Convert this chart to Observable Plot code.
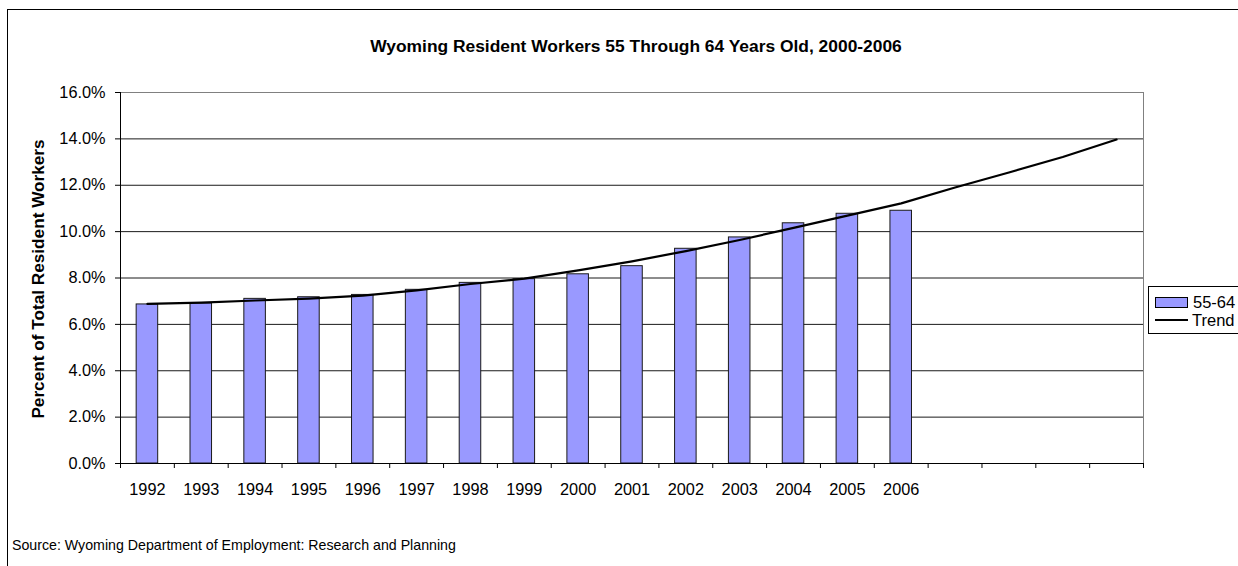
<!DOCTYPE html>
<html>
<head>
<meta charset="utf-8">
<script src="https://cdn.jsdelivr.net/npm/d3@7"></script>
<script src="https://cdn.jsdelivr.net/npm/@observablehq/plot@0.6"></script>
<style>
  html, body { margin: 0; padding: 0; background: #fff; overflow: hidden; }
  body { font-family: "Liberation Sans", Arial, sans-serif; color: #000; }
  #wrap { position: relative; width: 1238px; height: 566px; overflow: hidden; }
  #border { position: absolute; left: 7px; top: 9px; width: 1400px; height: 800px;
            border-left: 1px solid #000; border-top: 1px solid #000; pointer-events: none; }
  #chart { position: absolute; left: 0; top: 0; }
  #title { position: absolute; top: 38px; left: 636px; transform: translateX(-50%);
           white-space: nowrap; font-weight: bold; font-size: 17.4px; line-height: 17px; }
  #ytitle { position: absolute; left: 38px; top: 279px; transform: translate(-50%, -50%) rotate(-90deg);
            white-space: nowrap; font-weight: bold; font-size: 17.2px; line-height: 17px; }
  #source { position: absolute; left: 12px; top: 538px; white-space: nowrap;
            font-size: 14.2px; line-height: 14px; }
  #legend { position: absolute; left: 1148px; top: 286px; width: 120px; height: 46px;
            border: 1px solid #000; background: #fff; font-size: 16.5px; }
  .item { position: absolute; left: 6px; height: 18px; display: flex; align-items: center; }
  .sw { width: 31px; height: 9px; background: #9999ff; border: 1px solid #000; margin-right: 5px; }
  .ln { width: 33px; height: 2px; background: #000; margin-right: 4px; }
</style>
</head>
<body>
<div id="wrap">
  <div id="border"></div>
  <div id="chart"></div>
  <div id="title">Wyoming Resident Workers 55 Through 64 Years Old, 2000-2006</div>
  <div id="ytitle">Percent of Total Resident Workers</div>
  <div id="source">Source: Wyoming Department of Employment: Research and Planning</div>
  <div id="legend">
    <div class="item" style="top:6px"><div class="sw"></div><span>55-64</span></div>
    <div class="item" style="top:24px"><div class="ln"></div><span>Trend</span></div>
  </div>
</div>
<script>
// ---- data ----
const years = ["1992","1993","1994","1995","1996","1997","1998","1999","2000","2001","2002","2003","2004","2005","2006"];
const futureYears = ["2007","2008","2009","2010"]; // unlabeled categories the trend extends into
const categories = years.concat(futureYears);
const shares = [6.86, 6.90, 7.10, 7.17, 7.27, 7.49, 7.79, 7.95, 8.16, 8.51, 9.26, 9.75, 10.36, 10.77, 10.90];
const trendValues = [6.88, 6.94, 7.03, 7.11, 7.24, 7.47, 7.74, 7.97, 8.33, 8.72, 9.16, 9.64, 10.16, 10.69, 11.22, 11.90, 12.55, 13.22, 13.97];
const yTicks = [0, 2, 4, 6, 8, 10, 12, 14, 16];

const barData = years.map((year, i) => ({year, value: shares[i]}));
const trendData = categories.map((year, i) => ({year, value: trendValues[i]}));

const W = 1238, H = 566, mL = 120, mR = 95, mT = 92, mB = 103;
const step = (W - mL - mR) / categories.length;

const chart = Plot.plot({
  width: W, height: H,
  marginLeft: mL, marginRight: mR, marginTop: mT, marginBottom: mB,
  style: {fontFamily: "Liberation Sans, Arial, sans-serif", fontSize: "16.3px", color: "#000", background: "transparent"},
  x: {type: "band", domain: categories, paddingInner: 0.6, paddingOuter: 0.3, align: 0.5, round: false, label: null},
  y: {domain: [0, 16], label: null},
  marks: [
    Plot.gridY(yTicks.filter(t => t > 0 && t < 16), {stroke: "#1a1a1a", strokeOpacity: 1}),
    Plot.ruleY([16], {stroke: "#808080"}),
    Plot.ruleX([categories[categories.length - 1]], {dx: step / 2, stroke: "#808080"}),
    Plot.barY(barData, {x: "year", y: "value", fill: "#9999ff", stroke: "#1a1a1a", strokeWidth: 1}),
    Plot.line(trendData, {x: "year", y: "value", stroke: "#000", strokeWidth: 2.2}),
    Plot.ruleY([0], {stroke: "#000"}),
    Plot.ruleX([categories[0]], {dx: -step / 2, stroke: "#000"}),
    Plot.axisY({ticks: yTicks, tickSize: 5, tickPadding: 10, tickFormat: d => d.toFixed(1) + "%", label: null, stroke: "#000"}),
    Plot.axisX({tickSize: 0, tickPadding: 20, tickFormat: d => years.includes(d) ? d : "", label: null}),
    Plot.axisX({tickSize: 5, dx: -step / 2, tickFormat: () => "", label: null, stroke: "#000"}),
    Plot.axisX({ticks: [categories[categories.length - 1]], tickSize: 5, dx: step / 2, tickFormat: () => "", label: null, stroke: "#000"})
  ]
});
document.getElementById("chart").appendChild(chart);
</script>
</body>
</html>
